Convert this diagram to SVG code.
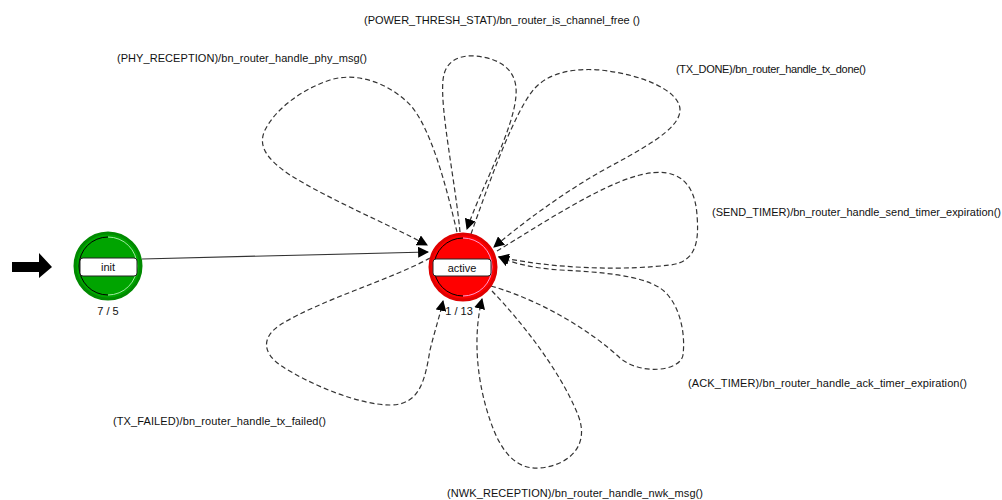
<svg xmlns="http://www.w3.org/2000/svg" width="1002" height="500" viewBox="0 0 1002 500">
<defs>
<style>
.lbl{font-family:"Liberation Sans",Arial,sans-serif;font-size:11px;fill:#111}
.nlbl{font-family:"Liberation Sans",Arial,sans-serif;font-size:11px;fill:#111;text-anchor:middle}
.loop{fill:none;stroke:#333;stroke-width:1.2;stroke-dasharray:5,3;marker-end:url(#ah)}
.box{fill:#fff;stroke:#222;stroke-width:1}
</style>
<marker id="ah" viewBox="0 0 10 10" refX="9" refY="5" markerWidth="11" markerHeight="11" markerUnits="userSpaceOnUse" orient="auto">
<path d="M0,0 L10,5 L0,10 z" fill="#000"/>
</marker>
</defs>
<rect width="1002" height="500" fill="#fff"/>

<g id="start-arrow">
<path d="M12,262 L39,262 L39,253 L52,267 L39,278 L39,272 L12,272 z" fill="#000"/>
</g>

<g id="connectors">
<line x1="142" y1="259" x2="428" y2="252" stroke="#333" stroke-width="1.2" marker-end="url(#ah)"/>
<path class="loop" d="M457,232 C447,190 430,120 405,100 C385,82 355,72 330,80 C300,90 275,110 265,130 C258,145 265,158 290,175 C330,200 390,225 427,245"/>
<path class="loop" d="M460,232 C455,180 440,110 443,80 C445,60 460,55 475,56 C500,58 518,70 516,95 C514,130 480,190 467,229"/>
<path class="loop" d="M471,234 C490,180 515,110 535,88 C550,72 575,68 600,70 C640,74 680,90 680,110 C680,130 640,150 600,172 C560,195 520,225 494,247"/>
<path class="loop" d="M497,251 C540,225 600,185 640,175 C680,165 695,185 697,215 C699,240 697,262 670,265 C630,270 560,270 499,257"/>
<path class="loop" d="M491,286 C540,300 590,330 620,358 C640,375 680,372 683,355 C686,330 678,300 660,288 C640,275 600,272 560,270 C530,268 510,262 499,257"/>
<path class="loop" d="M492,291 C520,320 560,370 578,415 C590,445 570,465 540,468 C515,470 500,450 490,420 C478,385 472,340 482,299"/>
<path class="loop" d="M430,258 C390,280 320,300 280,325 C262,337 262,352 280,365 C310,385 360,405 390,405 C420,405 425,380 430,350 C435,330 440,315 443,301"/>
</g>

<g id="node-init">
<circle cx="108" cy="266" r="33" fill="#00a400" stroke="#008a00" stroke-width="3"/>
<path d="M108,237 A29,29 0 0 0 108,295" fill="none" stroke="#000" stroke-width="1"/>
<path d="M108,237 A29,29 0 0 1 108,295" fill="none" stroke="#9fe89f" stroke-width="1"/>
<rect class="box" x="80" y="258" width="57" height="18" rx="3"/>
<text class="nlbl" x="108" y="271">init</text>
<text class="nlbl" x="108" y="315">7 / 5</text>
</g>

<g id="node-active">
<circle cx="463" cy="267" r="33" fill="#ff0000" stroke="#e00000" stroke-width="3"/>
<path d="M463,238 A29,29 0 0 0 463,296" fill="none" stroke="#000" stroke-width="1"/>
<path d="M463,238 A29,29 0 0 1 463,296" fill="none" stroke="#ff9ad0" stroke-width="1"/>
<rect class="box" x="433" y="259" width="58" height="17" rx="3"/>
<text class="nlbl" x="462" y="272">active</text>
<text class="nlbl" x="459" y="315">1 / 13</text>
</g>

<g id="labels">
<text class="lbl" x="364" y="24" textLength="276">(POWER_THRESH_STAT)/bn_router_is_channel_free ()</text>
<text class="lbl" x="117" y="62" textLength="250">(PHY_RECEPTION)/bn_router_handle_phy_msg()</text>
<text class="lbl" x="676" y="73" textLength="190">(TX_DONE)/bn_router_handle_tx_done()</text>
<text class="lbl" x="712" y="216" textLength="289">(SEND_TIMER)/bn_router_handle_send_timer_expiration()</text>
<text class="lbl" x="688" y="387" textLength="279">(ACK_TIMER)/bn_router_handle_ack_timer_expiration()</text>
<text class="lbl" x="113" y="425" textLength="213">(TX_FAILED)/bn_router_handle_tx_failed()</text>
<text class="lbl" x="447" y="497" textLength="256">(NWK_RECEPTION)/bn_router_handle_nwk_msg()</text>
</g>
</svg>
